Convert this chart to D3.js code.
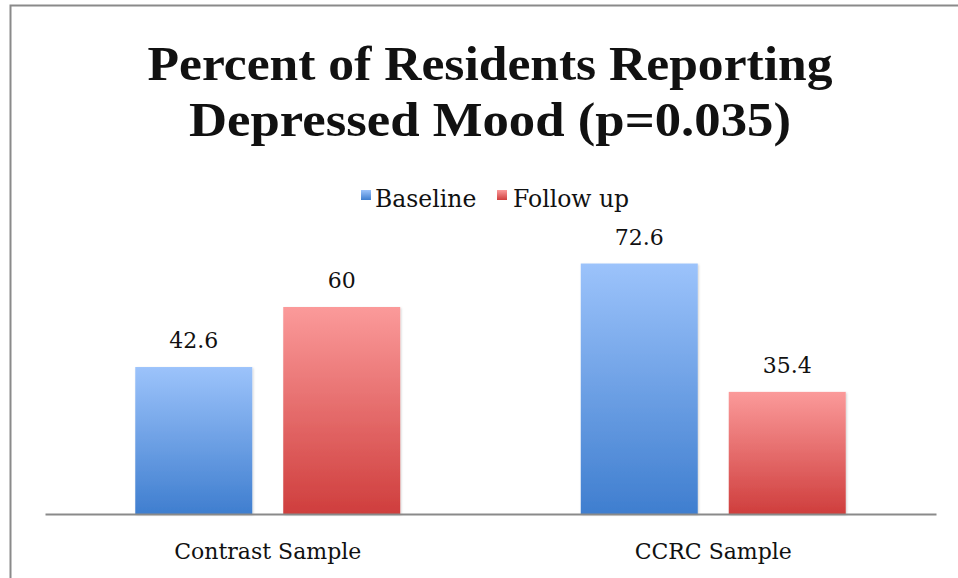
<!DOCTYPE html>
<html>
<head>
<meta charset="utf-8">
<script src="https://cdn.jsdelivr.net/npm/d3@7"></script>
<style>
  body { margin: 0; background: #fff; }
  text { font-family: "DejaVu Serif", serif; fill: #111; }
</style>
</head>
<body>
<div id="chart"></div>
<script>
// data
var categories = ["Contrast Sample", "CCRC Sample"];
var seriesNames = ["Baseline", "Follow up"];
var baseline = [42.6, 72.6];
var followUp = [60, 35.4];
var titleLines = ["Percent of Residents Reporting", "Depressed Mood (p=0.035)"];

var W = 958, H = 578;
var plot = {left: 45, right: 936, top: 238, bottom: 514};

var svg = d3.select("#chart").append("svg")
    .attr("width", W)
    .attr("height", H);

// gradients for the bars (light at top, darker at the bottom)
var defs = svg.append("defs");
var grads = [
    {id: "gBlue", top: "#9cc3fb", bottom: "#3f7ecf"},
    {id: "gRed", top: "#fb9a9a", bottom: "#cf3e3d"}
];
grads.forEach(function (g) {
    var lg = defs.append("linearGradient")
        .attr("id", g.id)
        .attr("x1", 0).attr("y1", 0).attr("x2", 0).attr("y2", 1);
    lg.append("stop").attr("offset", "0%").attr("stop-color", g.top);
    lg.append("stop").attr("offset", "100%").attr("stop-color", g.bottom);
});
var filter = defs.append("filter").attr("id", "shadow")
    .attr("x", "-10%").attr("y", "-10%").attr("width", "130%").attr("height", "130%");
filter.append("feDropShadow")
    .attr("dx", 1).attr("dy", 1).attr("stdDeviation", 1.2)
    .attr("flood-color", "#000").attr("flood-opacity", 0.18);

// frame: only top and left edges show in the picture
svg.append("path")
    .attr("d", "M10.5,578 L10.5,5.5 L958,5.5")
    .attr("fill", "none")
    .attr("stroke", "#8a8a8a")
    .attr("stroke-width", 2);

// title (Cambria-ish bold, stretched to the widths seen in the picture)
var titleWidths = [685, 602];
svg.append("g").selectAll("text")
    .data(titleLines)
    .enter().append("text")
    .attr("x", 490)
    .attr("y", function (d, i) { return 80 + i * 56; })
    .attr("text-anchor", "middle")
    .attr("textLength", function (d, i) { return titleWidths[i]; })
    .attr("lengthAdjust", "spacingAndGlyphs")
    .style("font-family", "'Liberation Serif', serif")
    .style("font-weight", "bold")
    .style("font-size", "49px")
    .text(function (d) { return d; });

// scales
var x0 = d3.scaleBand()
    .domain(categories)
    .range([plot.left, plot.right])
    .padding(0);

var x1 = d3.scaleBand()
    .domain(seriesNames)
    .range([0, x0.bandwidth()])
    .paddingInner(0.2095)
    .paddingOuter(0.61);

var y = d3.scaleLinear()
    .domain([0, 80])
    .range([plot.bottom, plot.top]);

var color = d3.scaleOrdinal()
    .domain(seriesNames)
    .range(["url(#gBlue)", "url(#gRed)"]);

var rows = categories.map(function (c, i) {
    return {cat: c, values: [
        {key: seriesNames[0], value: baseline[i]},
        {key: seriesNames[1], value: followUp[i]}
    ]};
});

// bars
var groups = svg.append("g").selectAll("g")
    .data(rows)
    .enter().append("g")
    .attr("transform", function (d) { return "translate(" + x0(d.cat) + ",0)"; });

groups.selectAll("rect")
    .data(function (d) { return d.values; })
    .enter().append("rect")
    .attr("x", function (d) { return x1(d.key); })
    .attr("y", function (d) { return y(d.value); })
    .attr("width", x1.bandwidth())
    .attr("height", function (d) { return y(0) - y(d.value); })
    .attr("fill", function (d) { return color(d.key); })
    .attr("filter", "url(#shadow)");

groups.selectAll("text.val")
    .data(function (d) { return d.values; })
    .enter().append("text")
    .attr("class", "val")
    .attr("x", function (d) { return x1(d.key) + x1.bandwidth() / 2; })
    .attr("y", function (d) { return y(d.value) - 19; })
    .attr("text-anchor", "middle")
    .style("font-size", "22px")
    .text(function (d) { return d.value; });

// x axis
var xAxis = svg.append("g")
    .attr("transform", "translate(0," + plot.bottom + ")")
    .call(d3.axisBottom(x0).tickSize(0).tickPadding(29));
xAxis.select(".domain")
    .attr("stroke", "#8a8a8a")
    .attr("stroke-width", 2);
xAxis.selectAll("text")
    .style("font-family", "'DejaVu Serif', serif")
    .style("font-size", "22px")
    .attr("fill", "#111");

// legend
var legendItems = [
    {key: seriesNames[0], sq: 361, tx: 375},
    {key: seriesNames[1], sq: 497, tx: 513}
];
var legend = svg.append("g").selectAll("g")
    .data(legendItems)
    .enter().append("g");
legend.append("rect")
    .attr("x", function (d) { return d.sq; })
    .attr("y", 190)
    .attr("width", 10)
    .attr("height", 10)
    .attr("fill", function (d) { return color(d.key); });
legend.append("text")
    .attr("x", function (d) { return d.tx; })
    .attr("y", 207)
    .style("font-size", "23.5px")
    .text(function (d) { return d.key; });
</script>
</body>
</html>
